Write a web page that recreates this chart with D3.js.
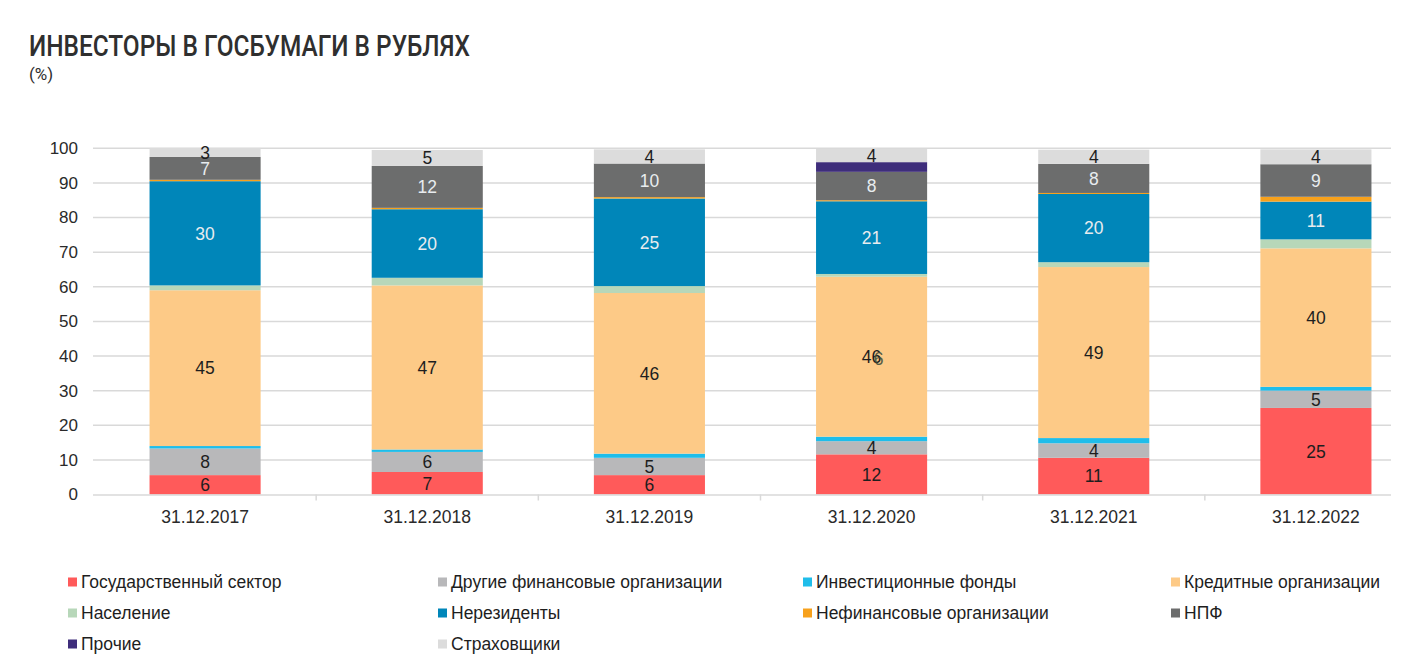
<!DOCTYPE html>
<html>
<head>
<meta charset="utf-8">
<script src="https://cdn.jsdelivr.net/npm/d3@7"></script>
<style>
  html, body { margin: 0; padding: 0; background: #fff; }
  svg { display: block; font-family: "Liberation Sans", Arial, sans-serif; }
</style>
</head>
<body>
<svg id="chart" width="1410" height="669"></svg>
<script>
// ---------- DATA ----------
const categories = ["31.12.2017", "31.12.2018", "31.12.2019", "31.12.2020", "31.12.2021", "31.12.2022"];
const seriesNames = [
  "Государственный сектор",
  "Другие финансовые организации",
  "Инвестиционные фонды",
  "Кредитные организации",
  "Население",
  "Нерезиденты",
  "Нефинансовые организации",
  "НПФ",
  "Прочие",
  "Страховщики"
];
const gosSector      = [5.6, 6.5, 5.6, 11.6, 10.6, 25.0];
const otherFinancial = [7.7, 5.8, 5.0, 3.8, 4.2, 5.0];
const investFunds    = [0.7, 0.7, 1.2, 1.3, 1.5, 1.1];
const creditOrgs     = [45.0, 47.4, 46.4, 46.2, 49.4, 40.0];
const households     = [1.4, 2.2, 2.0, 0.8, 1.4, 2.6];
const nonResidents   = [30.1, 19.8, 25.3, 21.0, 19.7, 10.9];
const nonFinancial   = [0.4, 0.4, 0.4, 0.3, 0.3, 1.4];
const pensionFunds   = [6.6, 12.1, 9.7, 8.2, 8.4, 9.4];
const others         = [0, 0, 0, 2.8, 0, 0];
const insurers       = [2.6, 4.6, 4.1, 3.8, 4.1, 4.3];
const seriesValues = [gosSector, otherFinancial, investFunds, creditOrgs, households,
                      nonResidents, nonFinancial, pensionFunds, others, insurers];
const labeledSeries = ["Государственный сектор", "Другие финансовые организации",
                       "Кредитные организации", "Нерезиденты", "НПФ", "Страховщики"];
const yTicks = [0, 10, 20, 30, 40, 50, 60, 70, 80, 90, 100];
// stray duplicate label visible in the source over the 2020 "46"
const strayLabels = [{ category: "31.12.2020", series: "Кредитные организации", text: "6" }];

// ---------- STYLE ----------
const colors = {
  "Государственный сектор": "#ff5a5a",
  "Другие финансовые организации": "#b8b8ba",
  "Инвестиционные фонды": "#1fbdea",
  "Кредитные организации": "#fdca87",
  "Население": "#b7d7b9",
  "Нерезиденты": "#0086b9",
  "Нефинансовые организации": "#f7a11c",
  "НПФ": "#6c6d6d",
  "Прочие": "#3e2d7b",
  "Страховщики": "#dcdcdc"
};
const lightText = new Set(["Нерезиденты", "НПФ", "Прочие"]);

const svg = d3.select("#chart");

// Table for stacking
const table = categories.map((c, i) => {
  const row = { category: c };
  seriesNames.forEach((s, k) => row[s] = seriesValues[k][i]);
  return row;
});
const stacked = d3.stack().keys(seriesNames)(table);

const x = d3.scaleBand().domain(categories).range([94, 1427]).paddingInner(0.5).paddingOuter(0.25);
const y = d3.scaleLinear().domain([0, 100]).range([494.5, 148.3]);
const gridLeft = 93, gridRight = 1391;

// Title
svg.append("text")
  .attr("x", 29).attr("y", 56)
  .attr("font-family", "Roboto, 'Liberation Sans', sans-serif")
  .attr("font-size", 29).attr("font-weight", 500)
  .attr("fill", "#2f2f2f")
  .attr("textLength", 441).attr("lengthAdjust", "spacingAndGlyphs")
  .text("ИНВЕСТОРЫ В ГОСБУМАГИ В РУБЛЯХ");
svg.append("text")
  .attr("x", 29).attr("y", 80)
  .attr("font-family", "Roboto, 'Liberation Sans', sans-serif")
  .attr("font-size", 17).attr("fill", "#2f2f2f")
  .text("(%)");

// Grid lines
svg.append("g").selectAll("line").data(yTicks.filter(d => d > 0)).join("line")
  .attr("x1", gridLeft).attr("x2", gridRight)
  .attr("y1", d => y(d)).attr("y2", d => y(d))
  .attr("stroke", "#d9d9d9").attr("stroke-width", 1.5);

// Y axis labels
svg.append("g").selectAll("text").data(yTicks).join("text")
  .attr("x", 78).attr("y", d => y(d)).attr("dy", "0.35em")
  .attr("text-anchor", "end").attr("font-size", 17).attr("fill", "#2a2a2a")
  .text(d => d);

// Bars
const layer = svg.append("g").selectAll("g").data(stacked).join("g")
  .attr("fill", d => colors[d.key]);
layer.selectAll("rect").data(d => d.map(p => ({ key: d.key, p }))).join("rect")
  .attr("x", d => x(d.p.data.category))
  .attr("width", x.bandwidth())
  .attr("y", d => y(d.p[1]))
  .attr("height", d => Math.max(0, y(d.p[0]) - y(d.p[1])));

// Baseline axis
svg.append("line")
  .attr("x1", gridLeft).attr("x2", gridRight)
  .attr("y1", y(0) + 0.5).attr("y2", y(0) + 0.5)
  .attr("stroke", "#d9d9d9").attr("stroke-width", 1.5);
const step = x.step();
svg.append("g").selectAll("line").data(categories.slice(1)).join("line")
  .attr("x1", d => x(d) - step * 0.25).attr("x2", d => x(d) - step * 0.25)
  .attr("y1", y(0)).attr("y2", y(0) + 6)
  .attr("stroke", "#d9d9d9").attr("stroke-width", 1.5);

// X labels
svg.append("g").selectAll("text").data(categories).join("text")
  .attr("x", d => x(d) + x.bandwidth() / 2).attr("y", 523)
  .attr("text-anchor", "middle").attr("font-size", 17.5).attr("fill", "#2a2a2a")
  .text(d => d);

// Value labels
const labelData = [];
stacked.forEach(s => {
  if (!labeledSeries.includes(s.key)) return;
  s.forEach(p => {
    const v = p[1] - p[0];
    if (v <= 0) return;
    labelData.push({ key: s.key, cat: p.data.category, mid: (p[0] + p[1]) / 2, text: Math.round(v) });
  });
});
svg.append("g").selectAll("text").data(labelData).join("text")
  .attr("x", d => x(d.cat) + x.bandwidth() / 2)
  .attr("y", d => y(d.mid)).attr("dy", "0.36em")
  .attr("text-anchor", "middle").attr("font-size", 17.5)
  .attr("fill", d => lightText.has(d.key) ? "#e8ecef" : "#1e1e1e")
  .text(d => d.text);

// stray overlapping label
strayLabels.forEach(sl => {
  const s = stacked.find(t => t.key === sl.series);
  const p = s[categories.indexOf(sl.category)];
  svg.append("text")
    .attr("x", x(sl.category) + x.bandwidth() / 2 + 7)
    .attr("y", y((p[0] + p[1]) / 2) + 2).attr("dy", "0.36em")
    .attr("text-anchor", "middle").attr("font-size", 17.5)
    .attr("fill", "#3a4a3a").attr("opacity", 0.85)
    .text(sl.text);
});

// Legend
const legendCols = [68, 438, 803, 1171];
const legendRows = [582, 613, 644];
const legend = svg.append("g").selectAll("g").data(seriesNames).join("g")
  .attr("transform", (d, i) => `translate(${legendCols[i % 4]},${legendRows[Math.floor(i / 4)]})`);
legend.append("rect")
  .attr("x", 0).attr("y", -4.5).attr("width", 9).attr("height", 9)
  .attr("fill", d => colors[d]);
legend.append("text")
  .attr("x", 13).attr("dy", "0.36em").attr("font-size", 17.5).attr("fill", "#1e1e1e")
  .text(d => d);
</script>
</body>
</html>
